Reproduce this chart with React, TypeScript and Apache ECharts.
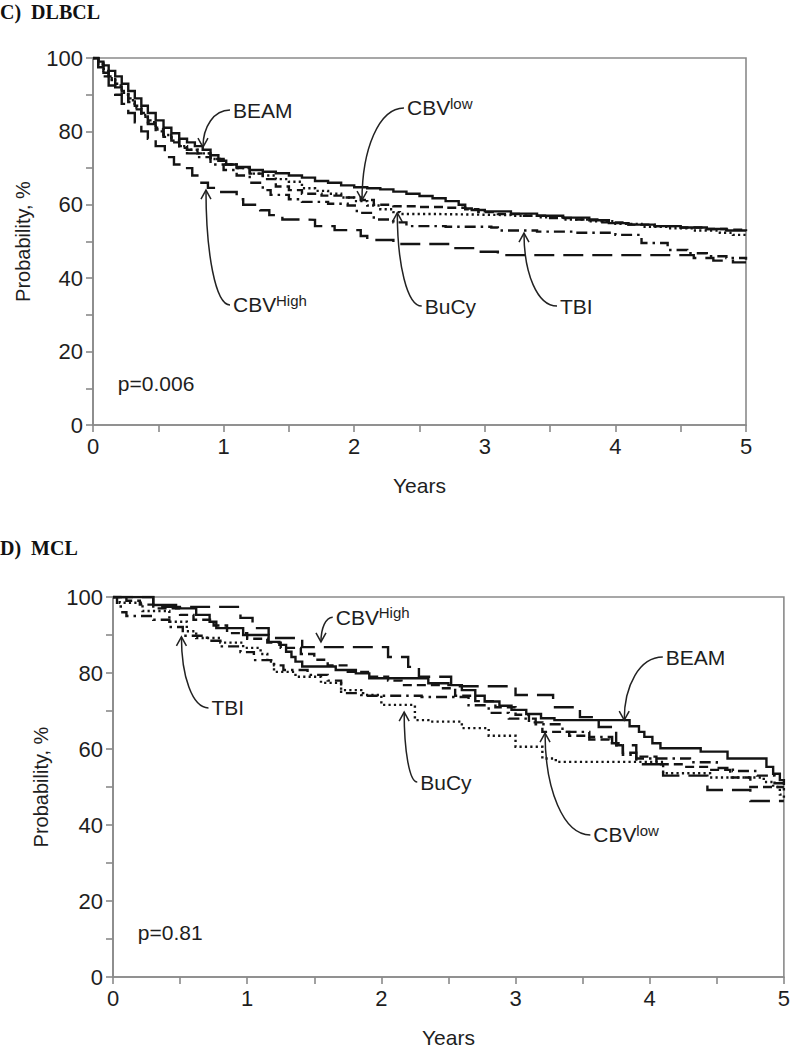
import React, { useEffect, useRef } from 'react';
import * as echarts from 'echarts';

// ---------- DATA (Kaplan–Meier steps: [years, %]) ----------
const dlbclBEAM = [
  [0, 100], [0.04, 99], [0.08, 98], [0.12, 96.5], [0.17, 95], [0.22, 93], [0.27, 91], [0.32, 89],
  [0.37, 87], [0.42, 85], [0.48, 83], [0.54, 81], [0.6, 79.5], [0.66, 78], [0.72, 77], [0.78, 76],
  [0.84, 75], [0.9, 73.5], [0.96, 72], [1.02, 71], [1.1, 70.3], [1.2, 69.5], [1.3, 69], [1.4, 68.6],
  [1.5, 68], [1.6, 67.4], [1.7, 66.5], [1.8, 66], [1.9, 65.3], [2.0, 64.8], [2.1, 64.5], [2.2, 64.2],
  [2.3, 63.6], [2.4, 63], [2.5, 62.4], [2.6, 61.8], [2.7, 61], [2.8, 60], [2.85, 59], [2.9, 58.6],
  [3.0, 58.2], [3.2, 57.6], [3.4, 57], [3.6, 56.5], [3.8, 55.8], [3.95, 55], [4.1, 54.6], [4.3, 54.2],
  [4.5, 53.8], [4.7, 53.4], [4.85, 53], [5, 52.8],
];
const dlbclCBVlow = [
  [0, 100], [0.04, 98.5], [0.08, 97], [0.12, 95], [0.17, 93], [0.22, 91], [0.27, 89], [0.32, 87],
  [0.37, 85], [0.42, 83], [0.48, 81], [0.54, 79], [0.6, 77.5], [0.66, 76], [0.72, 75], [0.8, 74],
  [0.9, 72.5], [1.0, 71], [1.1, 70], [1.2, 68.5], [1.3, 67], [1.4, 65], [1.5, 64], [1.6, 63],
  [1.75, 62.5], [1.9, 62], [2.05, 61.3], [2.15, 60], [2.3, 59.6], [2.5, 59.4], [2.7, 59.2],
  [2.85, 58.8], [2.95, 58], [3.1, 57.5], [3.3, 57], [3.5, 56.4], [3.7, 56], [3.9, 55.2], [4.1, 54.6],
  [4.3, 54.2], [4.5, 53.8], [4.7, 53.4], [4.85, 53.2], [5, 53],
];
const dlbclBuCy = [
  [0, 100], [0.04, 98], [0.08, 96.5], [0.12, 94.5], [0.17, 92.5], [0.22, 90.5], [0.27, 88.5],
  [0.32, 86.5], [0.37, 84.5], [0.42, 82.5], [0.48, 80.5], [0.54, 79], [0.6, 77.5], [0.66, 76],
  [0.72, 75], [0.8, 74], [0.9, 72.5], [1.0, 71], [1.1, 70], [1.2, 68.5], [1.3, 68], [1.4, 67],
  [1.5, 66.3], [1.6, 64.5], [1.7, 63.8], [1.8, 63], [1.9, 62], [2.0, 61], [2.1, 59.8], [2.2, 58.8],
  [2.3, 58], [2.35, 57.5], [2.6, 57.4], [2.8, 57.3], [3.0, 57.2], [3.2, 57], [3.4, 56.6], [3.6, 56],
  [3.8, 55.5], [4.0, 54.8], [4.2, 54], [4.4, 53.6], [4.6, 53], [4.8, 52.4], [4.9, 51.8], [5, 51.5],
];
const dlbclTBI = [
  [0, 100], [0.04, 98], [0.08, 96], [0.12, 94], [0.17, 92], [0.22, 90], [0.27, 88], [0.32, 86],
  [0.37, 84], [0.42, 82], [0.48, 80], [0.54, 78.5], [0.6, 77], [0.66, 75.5], [0.72, 74], [0.8, 73],
  [0.9, 71], [1.0, 69.5], [1.1, 68], [1.2, 66], [1.3, 64], [1.36, 62.7], [1.5, 61.5], [1.6, 60.8],
  [1.8, 60.3], [1.95, 59.8], [2.02, 57.8], [2.15, 56], [2.3, 55.2], [2.4, 54.2], [2.7, 54],
  [3.05, 53.8], [3.1, 53], [3.4, 52.7], [3.7, 52.4], [4.0, 51.8], [4.2, 49.6], [4.4, 47.7],
  [4.55, 46.8], [4.7, 46], [4.85, 45.5], [5, 45],
];
const dlbclCBVHigh = [
  [0, 100], [0.04, 97.5], [0.08, 95], [0.12, 92.5], [0.17, 90], [0.22, 87.5], [0.27, 85],
  [0.32, 82.5], [0.37, 80], [0.42, 78], [0.48, 76], [0.55, 73], [0.62, 71], [0.7, 70], [0.76, 68],
  [0.82, 66], [0.88, 64.6], [0.95, 63.5], [1.1, 61.5], [1.15, 60], [1.28, 58.5], [1.35, 57.2],
  [1.45, 56], [1.6, 55.9], [1.7, 54.2], [1.85, 53.1], [2.05, 51.5], [2.1, 50.4], [2.3, 49.3],
  [2.65, 49.3], [2.75, 48.2], [2.95, 47.2], [3.1, 46.3], [3.5, 46.3], [4.5, 46.3], [4.6, 45.5],
  [4.75, 44.8], [4.9, 44.3], [5, 44.3],
];

const mclBEAM = [
  [0, 100], [0.3, 97.9], [0.47, 97], [0.62, 95.3], [0.72, 93.5], [0.77, 91.8], [0.97, 90],
  [1.16, 88.2], [1.24, 87.4], [1.29, 85.6], [1.33, 84.2], [1.36, 83], [1.41, 81.7], [1.66, 80.8],
  [1.81, 79.9], [1.91, 78.6], [2.35, 77.3], [2.5, 76.8], [2.6, 75.5], [2.7, 74], [2.77, 72.5],
  [2.88, 71.4], [2.97, 70.3], [3.08, 69.2], [3.19, 68.1], [3.29, 67.6], [3.85, 66], [3.92, 64.5],
  [3.96, 63.2], [4.02, 61.5], [4.08, 60.2], [4.38, 59.3], [4.58, 57.5], [4.87, 55.3], [4.92, 53.5],
  [4.97, 51.8], [5, 50.5],
];
const mclCBVHigh = [
  [0, 100], [0.3, 97.4], [0.95, 94.5], [1.04, 91.8], [1.16, 89.2], [1.41, 86.8], [2.05, 84.2],
  [2.2, 81.6], [2.28, 79], [2.52, 76.5], [3.0, 74.2], [3.28, 71], [3.48, 68.4], [3.62, 65.8],
  [3.75, 61], [3.9, 56], [4.1, 53], [4.43, 49.2], [4.75, 46.3], [5, 46.3],
];
const mclTBI = [
  [0, 100], [0.03, 97.5], [0.07, 96], [0.1, 95], [0.3, 94], [0.42, 92.1], [0.52, 89.8], [0.7, 88.5],
  [0.8, 87], [0.95, 85.5], [1.05, 83.4], [1.2, 82], [1.27, 80.8], [1.45, 79.5], [1.6, 78],
  [1.7, 74.7], [1.9, 74], [2.3, 73.7], [2.65, 71.5], [2.8, 69.5], [2.95, 68], [3.15, 66.5],
  [3.35, 64.5], [3.55, 63.2], [3.72, 61], [3.8, 58.5], [3.9, 57.5], [4.3, 56.5], [4.5, 55],
  [4.62, 54.2], [4.8, 53], [4.93, 51], [5, 49],
];
const mclCBVlow = [
  [0, 100], [0.1, 99], [0.2, 98], [0.3, 97], [0.5, 95.3], [0.6, 94], [0.75, 92.5], [0.85, 90.5],
  [1.0, 89], [1.15, 88], [1.25, 86.6], [1.4, 85], [1.5, 83.5], [1.6, 82], [1.75, 80.3], [1.9, 79],
  [2.05, 78], [2.15, 76.8], [2.45, 76], [2.55, 74], [2.7, 72.6], [2.85, 71], [3.0, 69], [3.1, 67],
  [3.2, 64.5], [3.4, 63.5], [3.55, 62.5], [3.7, 61.5], [3.8, 59], [3.9, 58], [4.05, 56],
  [4.25, 55.3], [4.45, 54.5], [4.6, 52.5], [4.75, 50], [5, 50],
];
const mclBuCy = [
  [0, 100], [0.05, 98.5], [0.22, 96.3], [0.42, 93.5], [0.55, 91], [0.62, 89.2], [0.8, 88],
  [0.97, 86.6], [1.1, 85], [1.15, 83], [1.2, 80.3], [1.36, 79], [1.55, 77.4], [1.7, 75.5],
  [1.85, 74.2], [2.0, 71.6], [2.25, 67.6], [2.35, 67.2], [2.6, 65.5], [2.8, 63.5], [3.0, 60.6],
  [3.2, 57.5], [3.3, 56.6], [3.85, 56.6], [4.1, 53.6], [4.45, 52.5], [4.85, 51.3], [4.92, 50],
  [4.97, 48], [5, 47],
];

const xRange = [0, 5];
const xStep = 1;
const yRange = [0, 100];
const yStep = 20;

const panelTitles = ['C)  DLBCL', 'D)  MCL'];
const pValues = ['p=0.006', 'p=0.81'];
const pValueAt = [[0.19, 11.4], [0.185, 11.6]];

// Annotation labels: text left anchor and arrow tip, in data units
const dlbclNotes = [
  { label: 'BEAM', sup: '', at: [1.072, 85.8], tip: [0.842, 75.7] },
  { label: 'CBV', sup: 'low', at: [2.404, 86.4], tip: [2.06, 61.3] },
  { label: 'CBV', sup: 'High', at: [1.072, 32.7], tip: [0.865, 64.0] },
  { label: 'BuCy', sup: '', at: [2.54, 32.4], tip: [2.33, 57.8] },
  { label: 'TBI', sup: '', at: [3.576, 32.4], tip: [3.3, 52.3] },
];
const mclNotes = [
  { label: 'CBV', sup: 'High', at: [1.66, 94.7], tip: [1.55, 88.2] },
  { label: 'TBI', sup: '', at: [0.734, 70.8], tip: [0.51, 89.5] },
  { label: 'BuCy', sup: '', at: [2.29, 51.3], tip: [2.17, 69.7] },
  { label: 'CBV', sup: 'low', at: [3.58, 37.4], tip: [3.22, 64.2] },
  { label: 'BEAM', sup: '', at: [4.12, 84.2], tip: [3.81, 67.6] },
];

// ---------- STYLE ----------
const FONT = '"Liberation Sans", Arial, Helvetica, sans-serif';
const SERIF = '"Liberation Serif", "Times New Roman", serif';
const INK = '#141414';
const TEXT = '#1e1e1e';
const AXIS = '#8a8a8a';
const LW = 2.4;

const dashFor: Record<string, any> = {
  BEAM: 'solid',
  CBVlow: [9, 5],
  BuCy: [2.2, 3.2],
  TBI: [11, 5, 2.5, 5],
  CBVHigh: [20, 9],
};

function xAxisCfg(gridIndex: number, nameGap: number) {
  return {
    type: 'value', gridIndex, min: xRange[0], max: xRange[1], interval: xStep,
    name: 'Years', nameLocation: 'middle', nameGap,
    nameTextStyle: { fontFamily: FONT, fontSize: 21, color: TEXT },
    axisLine: { show: true, onZero: false, lineStyle: { color: AXIS, width: 1.6 } },
    axisTick: { show: true, length: 7, lineStyle: { color: AXIS, width: 1.6 } },
    minorTick: { show: true, splitNumber: 2, length: 7, lineStyle: { color: AXIS, width: 1.6 } },
    axisLabel: { fontFamily: FONT, fontSize: 22, color: TEXT, margin: 10 },
    splitLine: { show: false },
    minorSplitLine: { show: false },
  };
}
function yAxisCfg(gridIndex: number, nameGap: number) {
  return {
    type: 'value', gridIndex, min: yRange[0], max: yRange[1], interval: yStep,
    name: 'Probability, %', nameLocation: 'middle', nameGap,
    nameTextStyle: { fontFamily: FONT, fontSize: 20, color: TEXT },
    axisLine: { show: true, onZero: false, lineStyle: { color: AXIS, width: 1.6 } },
    axisTick: { show: true, length: 7, lineStyle: { color: AXIS, width: 1.6 } },
    minorTick: { show: true, splitNumber: 2, length: 7, lineStyle: { color: AXIS, width: 1.6 } },
    axisLabel: { fontFamily: FONT, fontSize: 22, color: TEXT, margin: 10 },
    splitLine: { show: false },
    minorSplitLine: { show: false },
  };
}

function kmSeries(name: string, data: number[][], idx: number, key: string) {
  return {
    type: 'line', name, xAxisIndex: idx, yAxisIndex: idx, data, step: 'end',
    showSymbol: false, symbol: 'none', silent: true,
    lineStyle: { color: INK, width: LW, type: dashFor[key], cap: 'butt', join: 'miter' },
    z: 3,
  };
}

function buildNote(chart: any, gridIndex: number, note: any, id: string) {
  const a = chart.convertToPixel({ gridIndex }, note.at);
  const t = chart.convertToPixel({ gridIndex }, note.tip);
  const sx = a[0] - 3;
  const sy = a[1];
  const dx = sx - t[0];
  const dy = t[1] - sy;
  const els: any[] = [];
  els.push({
    type: 'bezierCurve', id: id + '-c', silent: true,
    shape: {
      x1: sx, y1: sy, x2: t[0], y2: t[1],
      cpx1: sx - dx * 0.6, cpy1: sy,
      cpx2: t[0], cpy2: sy + dy * 0.45,
    },
    style: { stroke: '#222', lineWidth: 1.5, fill: null },
    z: 10,
  });
  const dir = t[1] < sy ? 1 : -1;
  els.push({
    type: 'polyline', id: id + '-h', silent: true,
    shape: { points: [[t[0] - 5, t[1] + dir * 9], [t[0], t[1]], [t[0] + 5, t[1] + dir * 9]] },
    style: { stroke: '#222', lineWidth: 1.5, fill: null },
    z: 10,
  });
  els.push({
    type: 'text', id: id + '-t', x: a[0], y: sy, silent: true,
    style: { text: note.label, fontFamily: FONT, fontSize: 21, fill: TEXT, align: 'left', verticalAlign: 'middle' },
    z: 10,
  });
  if (note.sup) {
    els.push({
      type: 'text', id: id + '-s', x: a[0] + 43, y: sy - 12, silent: true,
      style: { text: note.sup, fontFamily: FONT, fontSize: 15, fill: TEXT, align: 'left', verticalAlign: 'top' },
      z: 10,
    });
  }
  return els;
}

export default function App() {
  const ref = useRef<HTMLDivElement>(null);
  useEffect(() => {
    if (!ref.current) return;
    const chart = echarts.init(ref.current, null, { renderer: 'svg' });
    const option: any = {
      animation: false,
      backgroundColor: '#ffffff',
      grid: [
        { left: 93, top: 58, width: 653, height: 367, show: true, borderColor: AXIS, borderWidth: 1.6, backgroundColor: 'transparent', containLabel: false },
        { left: 113, top: 597, width: 674, height: 380, show: true, borderColor: AXIS, borderWidth: 1.6, backgroundColor: 'transparent', containLabel: false },
      ],
      xAxis: [xAxisCfg(0, 50), xAxisCfg(1, 50)],
      yAxis: [yAxisCfg(0, 60), yAxisCfg(1, 62)],
      series: [
        kmSeries('BEAM', dlbclBEAM, 0, 'BEAM'),
        kmSeries('CBVlow', dlbclCBVlow, 0, 'CBVlow'),
        kmSeries('BuCy', dlbclBuCy, 0, 'BuCy'),
        kmSeries('TBI', dlbclTBI, 0, 'TBI'),
        kmSeries('CBVHigh', dlbclCBVHigh, 0, 'CBVHigh'),
        kmSeries('BEAM', mclBEAM, 1, 'BEAM'),
        kmSeries('CBVlow', mclCBVlow, 1, 'CBVlow'),
        kmSeries('BuCy', mclBuCy, 1, 'BuCy'),
        kmSeries('TBI', mclTBI, 1, 'TBI'),
        kmSeries('CBVHigh', mclCBVHigh, 1, 'CBVHigh'),
      ],
    };
    chart.setOption(option);

    const graphics: any[] = [];
    graphics.push({
      type: 'text', id: 'title0', x: 0, y: 2, silent: true,
      style: { text: panelTitles[0], fontFamily: SERIF, fontWeight: 'bold', fontSize: 20, fill: '#111', align: 'left', verticalAlign: 'top' },
    });
    graphics.push({
      type: 'text', id: 'title1', x: 0, y: 538, silent: true,
      style: { text: panelTitles[1], fontFamily: SERIF, fontWeight: 'bold', fontSize: 20, fill: '#111', align: 'left', verticalAlign: 'top' },
    });
    [0, 1].forEach((g) => {
      const p = chart.convertToPixel({ gridIndex: g }, pValueAt[g]);
      graphics.push({
        type: 'text', id: 'p' + g, x: p[0], y: p[1], silent: true,
        style: { text: pValues[g], fontFamily: FONT, fontSize: 21, fill: TEXT, align: 'left', verticalAlign: 'middle' },
      });
    });
    dlbclNotes.forEach((n, i) => graphics.push(...buildNote(chart, 0, n, 'n0-' + i)));
    mclNotes.forEach((n, i) => graphics.push(...buildNote(chart, 1, n, 'n1-' + i)));
    chart.setOption({ graphic: graphics });

    return () => chart.dispose();
  }, []);
  return <div ref={ref} style={{ position: 'fixed', left: 0, top: 0, width: 793, height: 1049 }} />;
}
